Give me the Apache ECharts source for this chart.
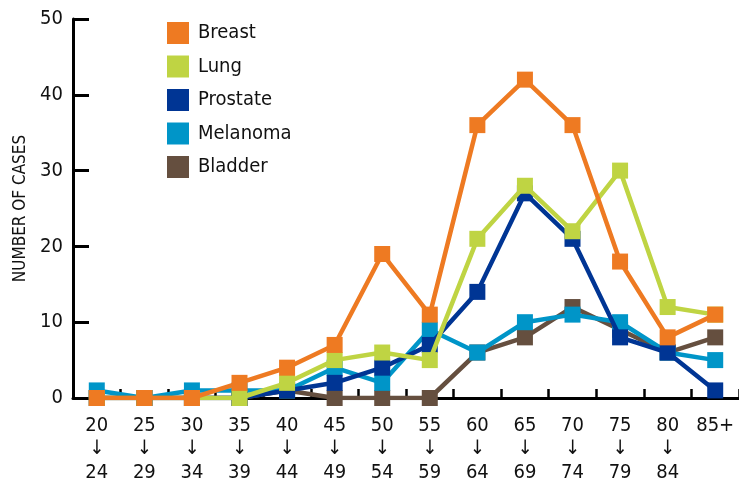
<!DOCTYPE html>
<html>
<head>
<meta charset="utf-8">
<script src="https://cdn.jsdelivr.net/npm/echarts@6/dist/echarts.min.js"></script>
<style>
html,body{margin:0;padding:0;background:#fff;}
#chart{width:739px;height:485px;}
</style>
</head>
<body>
<div id="chart"></div>
<script>
var categories = ['20\n↓\n24','25\n↓\n29','30\n↓\n34','35\n↓\n39','40\n↓\n44','45\n↓\n49','50\n↓\n54','55\n↓\n59','60\n↓\n64','65\n↓\n69','70\n↓\n74','75\n↓\n79','80\n↓\n84','85+'];
var breast   = [0,0,0,2,4,7,19,11,36,42,36,18,8,11];
var lung     = [0,0,0,0,2,5,6,5,21,28,22,30,12,11];
var prostate = [0,0,0,0,1,2,4,7,14,27,21,8,6,1];
var melanoma = [1,0,1,1,1,4,2,9,6,10,11,10,6,5];
var bladder  = [0,0,0,0,1,0,0,0,6,8,12,9,6,8];
var seriesNames = ['Breast','Lung','Prostate','Melanoma','Bladder'];
var seriesColors = ['#EE7A22','#BFD443','#003594','#0095C8','#654F3F'];
var yTitle = 'NUMBER OF CASES';

var FONT = '"Liberation Sans Narrow", "DejaVu Sans Condensed", sans-serif';
var dataList = [breast, lung, prostate, melanoma, bladder];
var series = dataList.map(function (d, i) {
  return {
    name: seriesNames[i],
    type: 'line',
    data: d,
    symbol: 'rect',
    symbolSize: 16,
    z: 10 - i,
    lineStyle: { width: 4.5, color: seriesColors[i] },
    itemStyle: { color: seriesColors[i] },
    emphasis: { disabled: true },
    animation: false
  };
});

var chart = echarts.init(document.getElementById('chart'), null, { renderer: 'canvas' });
chart.setOption({
  backgroundColor: '#fff',
  animation: false,
  textStyle: { fontFamily: FONT },
  legend: {
    orient: 'vertical',
    left: 162,
    top: 17,
    icon: 'rect',
    itemWidth: 22,
    itemHeight: 22,
    itemGap: 11.5,
    data: seriesNames,
    textStyle: { fontFamily: FONT, fontSize: 20, color: '#111', padding: [0, 0, 0, 4] }
  },
  grid: { left: 73, right: 0, top: 19, bottom: 87, containLabel: false },
  xAxis: {
    type: 'category',
    data: categories,
    boundaryGap: true,
    axisLine: { lineStyle: { color: '#000', width: 3 } },
    axisTick: { show: true, inside: true, length: 9, lineStyle: { color: '#000', width: 2.5 } },
    axisLabel: { interval: 0, margin: 16, fontFamily: FONT, fontSize: 20, color: '#111', lineHeight: 23.5, verticalAlign: 'top' },
    splitLine: { show: false }
  },
  yAxis: {
    type: 'value',
    min: 0,
    max: 50,
    interval: 10,
    name: yTitle,
    nameLocation: 'middle',
    nameGap: 44,
    nameTextStyle: { fontFamily: FONT, fontSize: 17, color: '#111' },
    axisLine: { show: true, lineStyle: { color: '#000', width: 3 } },
    axisTick: { show: true, inside: true, length: 16, lineStyle: { color: '#000', width: 3 } },
    axisLabel: { margin: 10, fontFamily: FONT, fontSize: 20, color: '#111' },
    splitLine: { show: false }
  },
  series: series
});
</script>
</body>
</html>
